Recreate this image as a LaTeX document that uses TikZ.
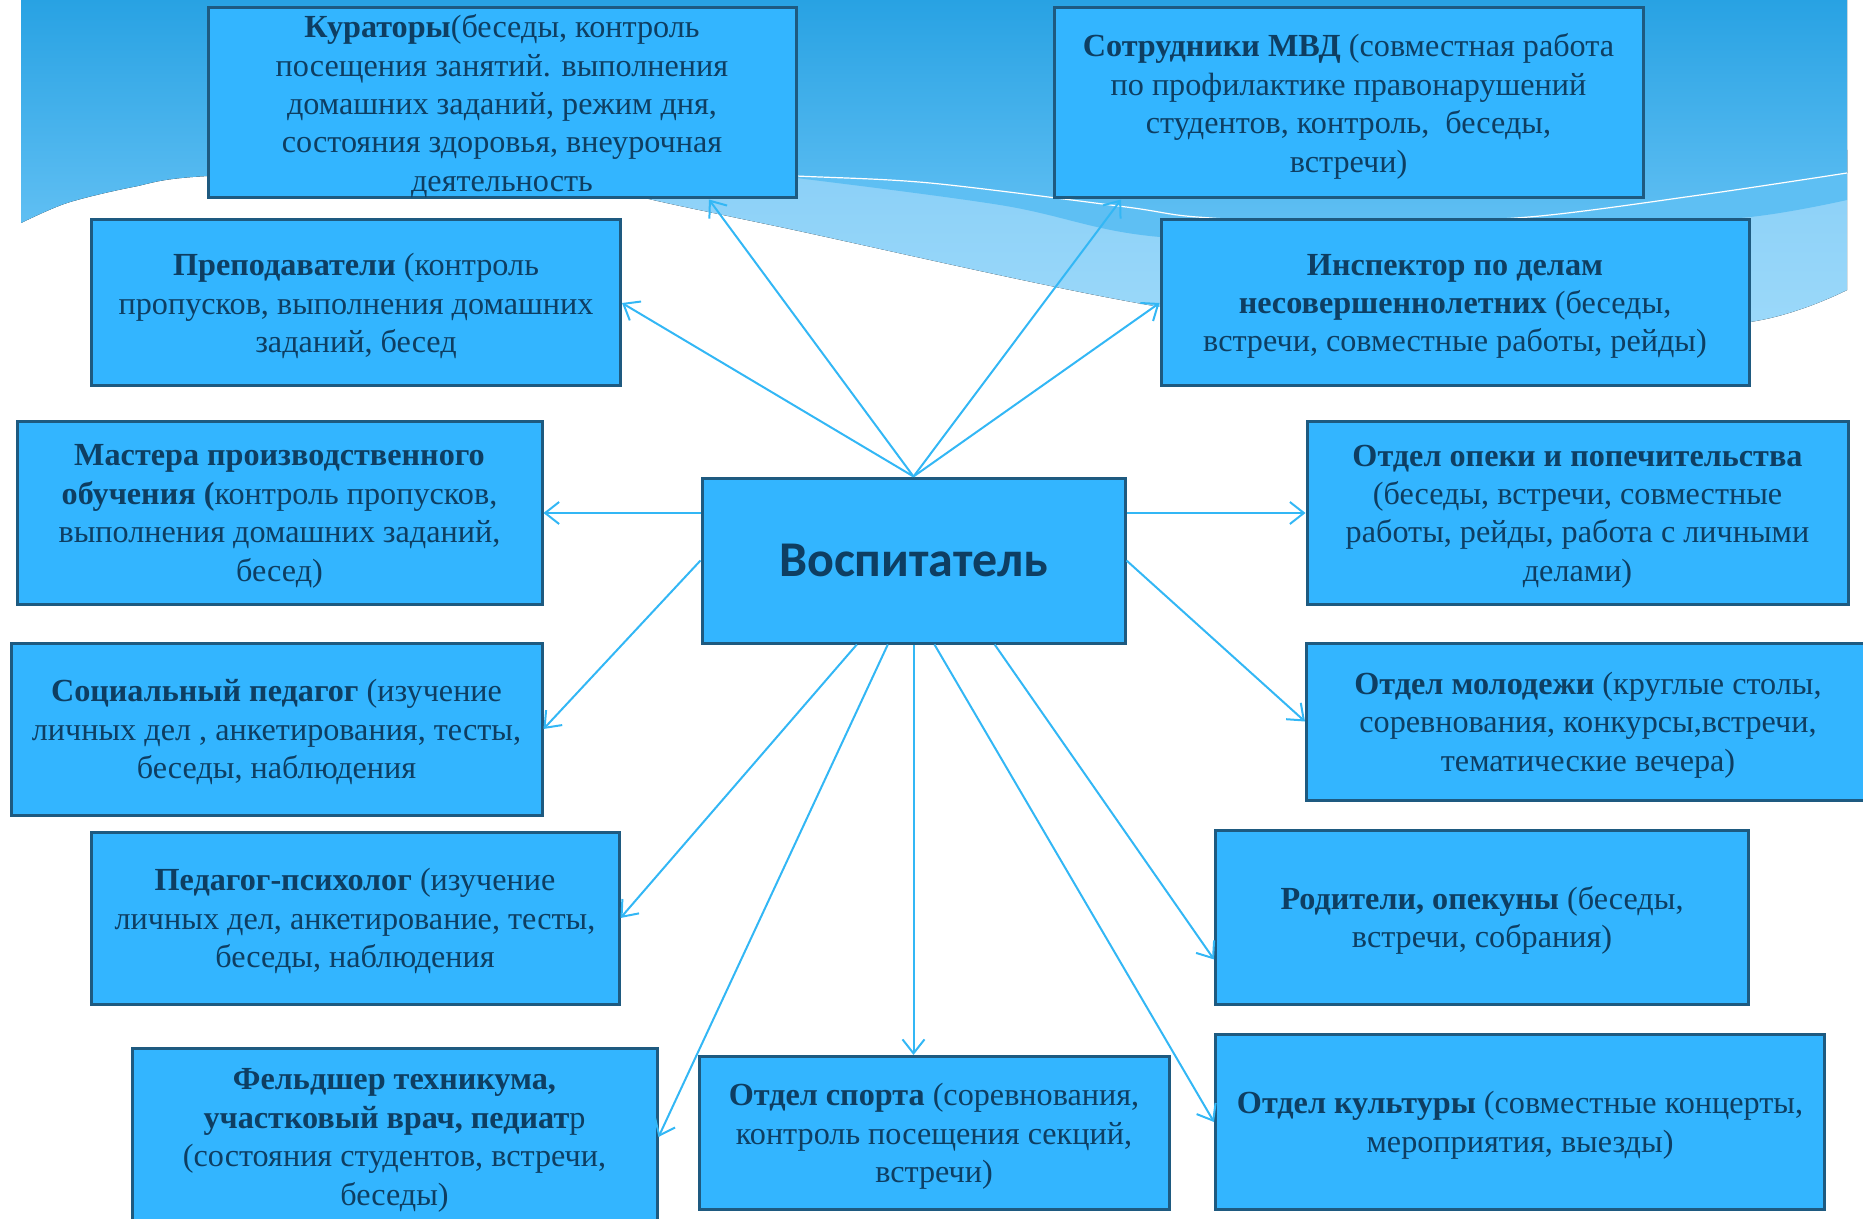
\documentclass[tikz,border=0pt]{standalone}
\usepackage{fontspec}
\setmainfont{Liberation Serif}
\newfontfamily\headfont{Carlito}
\usetikzlibrary{positioning,arrows.meta}

\definecolor{boxfill}{RGB}{51,181,255}
\definecolor{boxline}{RGB}{30,90,128}
\definecolor{boxtext}{RGB}{14,62,98}
\definecolor{linkblue}{RGB}{51,183,245}
\definecolor{wavedark}{RGB}{40,162,227}
\definecolor{wavebottom}{RGB}{96,191,243}
\definecolor{wavemid}{RGB}{94,191,243}
\definecolor{wavelight}{RGB}{137,207,247}
\definecolor{wavepale}{RGB}{156,217,250}

\begin{document}
\begin{tikzpicture}[x=0.5pt, y=-0.5pt,
        plainbox/.style={
            rectangle, draw=boxline, line width=1.5pt, fill=boxfill,
            text=boxtext, align=center, inner sep=1pt
        },
        infobox/.style={
            plainbox,
            font=\fontsize{16.1}{19.2}\selectfont,
            text depth=-1.8pt
        },
        mainbox/.style={plainbox, font=\headfont\bfseries\fontsize{25}{29}\selectfont},
        link/.style={-{Straight Barb[length=7pt,width=11pt]}, draw=linkblue, line width=1pt},
    ]

    \useasboundingbox (0,0) rectangle (1863,1219);

    % background wave
    \fill[top color=wavelight, bottom color=wavepale]
        (600,150) -- plot[smooth, tension=0.6] coordinates {(600,186) (653,200) (780,227) (1160,307) (1400,330) (1550,334) (1750,322) (1847,290)}
        -- (1847,150) -- cycle;
    \fill[wavemid]
        (780,150) -- plot[smooth, tension=0.6] coordinates {(780,176) (1000,205) (1160,237) (1400,240) (1600,226) (1750,217) (1847,200)}
        -- (1847,150) -- cycle;
    \fill[top color=wavedark, bottom color=wavebottom]
        (21,0) -- (1847,0) -- plot[smooth, tension=0.5] coordinates {(1847,173) (1700,195) (1529,217) (1350,224) (1197,217) (1126,207) (930,183) (796,176) (500,166) (208,176) (133,187) (67,203) (21,223)}
        -- cycle;
    \draw[white, line width=0.6pt]
        plot[smooth, tension=0.5] coordinates {(1847,173) (1700,195) (1529,217) (1350,224) (1197,217) (1126,207) (930,183) (796,176) (600,168)};

    % boxes
    \node[infobox, minimum width=294pt, minimum height=95pt] (cur) at (502,103)
        {\textbf{Кураторы}(беседы, контроль\\посещения занятий. выполнения\\домашних заданий, режим дня,\\состояния здоровья, внеурочная\\деятельность};
    \node[infobox, minimum width=294.5pt, minimum height=95pt] (mvd) at (1348.5,103)
        {\textbf{Сотрудники МВД} (совместная работа\\по профилактике правонарушений\\студентов, контроль,\ \ беседы,\\встречи)};
    \node[infobox, minimum width=264.5pt, minimum height=83pt] (prep) at (356,303)
        {\textbf{Преподаватели} (контроль\\пропусков, выполнения домашних\\заданий, бесед};
    \node[infobox, minimum width=294pt, minimum height=83pt] (insp) at (1455,303)
        {\textbf{Инспектор по делам}\\\textbf{несовершеннолетних} (беседы,\\встречи, совместные работы, рейды)};
    \node[infobox, minimum width=262.5pt, minimum height=91pt] (mas) at (279.5,513)
        {\textbf{Мастера производственного}\\\textbf{обучения (}контроль пропусков,\\выполнения домашних заданий,\\бесед)};
    \node[mainbox, minimum width=211.5pt, minimum height=82.5pt] (vosp) at (913.5,560.5)
        {Воспитатель};
    \node[infobox, minimum width=270.5pt, minimum height=91pt] (opeka) at (1577.5,513)
        {\textbf{Отдел опеки и попечительства}\\(беседы, встречи, совместные\\работы, рейды, работа с личными\\делами)};
    \node[infobox, minimum width=265.5pt, minimum height=86pt] (soc) at (276.5,729)
        {\textbf{Социальный педагог} (изучение\\личных дел , анкетирования, тесты,\\беседы, наблюдения};
    \node[infobox, minimum width=281.5pt, minimum height=78.5pt] (molod) at (1588,721.5)
        {\textbf{Отдел молодежи} (круглые столы,\\соревнования, конкурсы,встречи,\\тематические вечера)};
    \node[infobox, minimum width=264pt, minimum height=86pt] (psych) at (355,918)
        {\textbf{Педагог-психолог} (изучение\\личных дел, анкетирование, тесты,\\беседы, наблюдения};
    \node[infobox, minimum width=266.5pt, minimum height=87pt] (rod) at (1482,917)
        {\textbf{Родители, опекуны} (беседы,\\встречи, собрания)};
    \node[infobox, minimum width=262.5pt, minimum height=89pt] (feld) at (394.5,1137)
        {\textbf{Фельдшер техникума,}\\\textbf{участковый врач, педиат}р\\(состояния студентов, встречи,\\беседы)};
    \node[infobox, minimum width=235pt, minimum height=76.5pt] (sport) at (934,1133)
        {\textbf{Отдел спорта} (соревнования,\\контроль посещения секций,\\встречи)};
    \node[infobox, minimum width=304.5pt, minimum height=87.5pt] (kult) at (1520,1122)
        {\textbf{Отдел культуры} (совместные концерты,\\мероприятия, выезды)};

    % links
    \draw[link] (vosp.north) -- (cur.-25);
    \draw[link] (vosp.north) -- (prep.east);
    \draw[link] (vosp.north) -- (mvd.203);
    \draw[link] (vosp.north) -- (insp.west);
    \draw[link] (vosp.west |- mas.east) -- (mas.east);
    \draw[link] (vosp.west) -- (soc.east);
    \draw[link] (vosp.east |- opeka.west) -- (opeka.west);
    \draw[link] (vosp.east) -- (molod.west);
    \draw[link] (vosp.236) -- (psych.east);
    \draw[link] (vosp.253) -- (feld.east);
    \draw[link] (vosp.south) -- (vosp.south |- sport.north);
    \draw[link] (vosp.284) -- (kult.west);
    \draw[link] (vosp.314) -- (rod.189);

\end{tikzpicture}
\end{document}
